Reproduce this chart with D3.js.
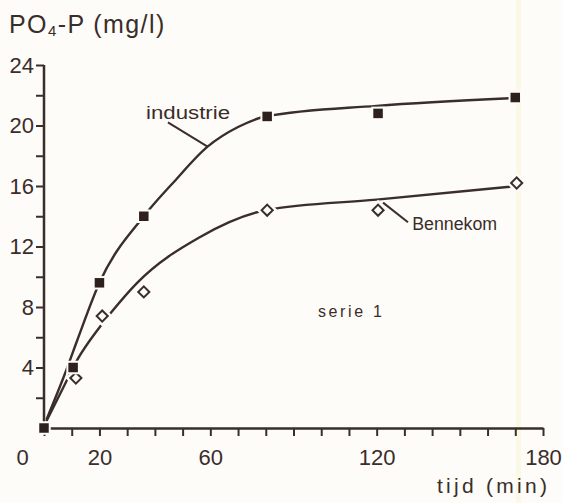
<!DOCTYPE html>
<html>
<head>
<meta charset="utf-8">
<script src="https://cdn.jsdelivr.net/npm/d3@7"></script>
<style>
  html, body { margin: 0; padding: 0; background: #fdfcf9; }
  svg { display: block; }
</style>
</head>
<body>
<svg id="chart" width="562" height="503"></svg>
<script>
// Measured phosphate (PO4-P, mg/l) against time (min)
const industrieTime  = [0, 10.5, 20, 36, 80.5, 120.5, 170];
const industrieValue = [0, 4.0, 9.6, 14.0, 20.6, 20.8, 21.85];
const bennekomTime   = [11.5, 21, 36, 80.5, 120.5, 170.5];
const bennekomValue  = [3.3, 7.4, 9.0, 14.4, 14.4, 16.2];

// Hand-drawn trend curves through the measurements
const industrieCurveTime  = [1, 8, 12, 20, 36, 47, 59, 70, 80, 120, 168];
const industrieCurveValue = [0.6, 3.8, 5.8, 9.6, 14.0, 16.3, 18.6, 19.9, 20.6, 21.3, 21.8];
const bennekomCurveTime   = [1, 7, 12.3, 20.2, 24.5, 33.6, 56, 80, 120, 168];
const bennekomCurveValue  = [0.5, 2.7, 4.6, 6.7, 7.7, 9.6, 12.6, 14.4, 15.1, 15.95];

// Axis ticks and labels
const xTicks  = d3.range(0, 181, 10);
const xLabels = [0, 20, 60, 120, 180];
const yTicks  = d3.range(2, 25, 2);
const yLabels = [4, 8, 12, 16, 20, 24];

const ink = "#3a2d2a";
const paper = "#fdfcf9";
const font = "'Liberation Sans', Arial, sans-serif";

const svg = d3.select("#chart");
svg.append("rect").attr("width", 562).attr("height", 503).attr("fill", paper);
// faint yellowish fold on the sheet
svg.append("rect").attr("x", 516).attr("y", 0).attr("width", 5).attr("height", 503)
  .attr("fill", "#faf4d8").attr("opacity", 0.55);

const x = d3.scaleLinear().domain([0, 180]).range([44, 543]);
const y = d3.scaleLinear().domain([0, 24]).range([428, 65]);

// x axis
const gx = svg.append("g")
  .attr("transform", `translate(0,${y(0)})`)
  .call(d3.axisBottom(x).tickValues(xTicks).tickSize(8).tickSizeOuter(0).tickPadding(13)
    .tickFormat(d => xLabels.includes(d) ? d : ""));
gx.select(".domain").attr("stroke", ink).attr("stroke-width", 2.5);
gx.selectAll(".tick line").attr("stroke", ink).attr("stroke-width", 2);
gx.selectAll(".tick text").attr("fill", ink).attr("font-family", font).attr("font-size", 22);
gx.selectAll(".tick text").filter(d => d === 0).attr("x", -22);

// y axis
const gy = svg.append("g")
  .attr("transform", `translate(${x(0)},0)`)
  .call(d3.axisLeft(y).tickValues(yTicks).tickSize(8).tickSizeOuter(0).tickPadding(2)
    .tickFormat(d => yLabels.includes(d) ? d : ""));
gy.select(".domain").attr("stroke", ink).attr("stroke-width", 2.5).attr("d", `M0,${y(24)}V${y(0)}`);
gy.selectAll(".tick line").attr("stroke", ink).attr("stroke-width", 2);
gy.selectAll(".tick text").attr("fill", ink).attr("font-family", font).attr("font-size", 22);

// axis titles
const title = svg.append("text").attr("x", 9).attr("y", 33)
  .attr("fill", ink).attr("font-family", font).attr("font-size", 25).attr("letter-spacing", 1.4);
title.append("tspan").text("PO");
title.append("tspan").attr("font-size", 15).attr("dy", 3).text("4");
title.append("tspan").attr("dy", -3).text("-P (mg/l)");

svg.append("text").attr("x", 437).attr("y", 493)
  .attr("fill", ink).attr("font-family", font).attr("font-size", 21)
  .attr("textLength", 110).attr("lengthAdjust", "spacing")
  .text("tijd (min)");

// trend curves
const line = d3.line().x(d => x(d[0])).y(d => y(d[1])).curve(d3.curveMonotoneX);
const curves = [
  d3.zip(industrieCurveTime, industrieCurveValue),
  d3.zip(bennekomCurveTime, bennekomCurveValue)
];
svg.selectAll("path.curve").data(curves).join("path")
  .attr("class", "curve")
  .attr("d", line)
  .attr("fill", "none").attr("stroke", ink).attr("stroke-width", 2.4)
  .attr("stroke-linecap", "round");

// Bennekom: open diamonds
const diamond = d3.symbol(d3.symbolSquare, 62)();
const bData = d3.zip(bennekomTime, bennekomValue);
svg.selectAll("path.halo").data(bData).join("path")
  .attr("class", "halo").attr("d", diamond)
  .attr("transform", d => `translate(${x(d[0])},${y(d[1])}) rotate(45)`)
  .attr("fill", paper).attr("stroke", paper).attr("stroke-width", 7);
svg.selectAll("path.diamond").data(bData).join("path")
  .attr("class", "diamond").attr("d", diamond)
  .attr("transform", d => `translate(${x(d[0])},${y(d[1])}) rotate(45)`)
  .attr("fill", paper).attr("stroke", ink).attr("stroke-width", 2);

// industrie: filled squares
const s = 9.5;
svg.selectAll("rect.square").data(d3.zip(industrieTime, industrieValue)).join("rect")
  .attr("class", "square")
  .attr("x", d => x(d[0]) - s / 2).attr("y", d => y(d[1]) - s / 2)
  .attr("width", s).attr("height", s)
  .attr("fill", "#2e201d").attr("stroke", paper).attr("stroke-width", 4)
  .attr("paint-order", "stroke");

// labels with leader lines
const labelFont = 18;
svg.append("line")
  .attr("x1", x(44.7)).attr("y1", y(20.2)).attr("x2", x(59)).attr("y2", y(18.6))
  .attr("stroke", ink).attr("stroke-width", 2);
svg.append("text").attr("x", x(36.8)).attr("y", y(20.4))
  .attr("fill", ink).attr("font-family", font).attr("font-size", labelFont)
  .attr("textLength", 84).attr("lengthAdjust", "spacingAndGlyphs")
  .text("industrie");

svg.append("line")
  .attr("x1", x(122.3)).attr("y1", y(14.9)).attr("x2", x(131.3)).attr("y2", y(13.6))
  .attr("stroke", ink).attr("stroke-width", 2);
svg.append("text").attr("x", x(132.8)).attr("y", y(13.1))
  .attr("fill", ink).attr("font-family", font).attr("font-size", labelFont)
  .attr("textLength", 85).attr("lengthAdjust", "spacingAndGlyphs")
  .text("Bennekom");

svg.append("text").attr("x", x(98.8)).attr("y", y(7.34))
  .attr("fill", ink).attr("font-family", font).attr("font-size", 16)
  .attr("textLength", 64).attr("lengthAdjust", "spacing")
  .text("serie 1");
</script>
</body>
</html>
